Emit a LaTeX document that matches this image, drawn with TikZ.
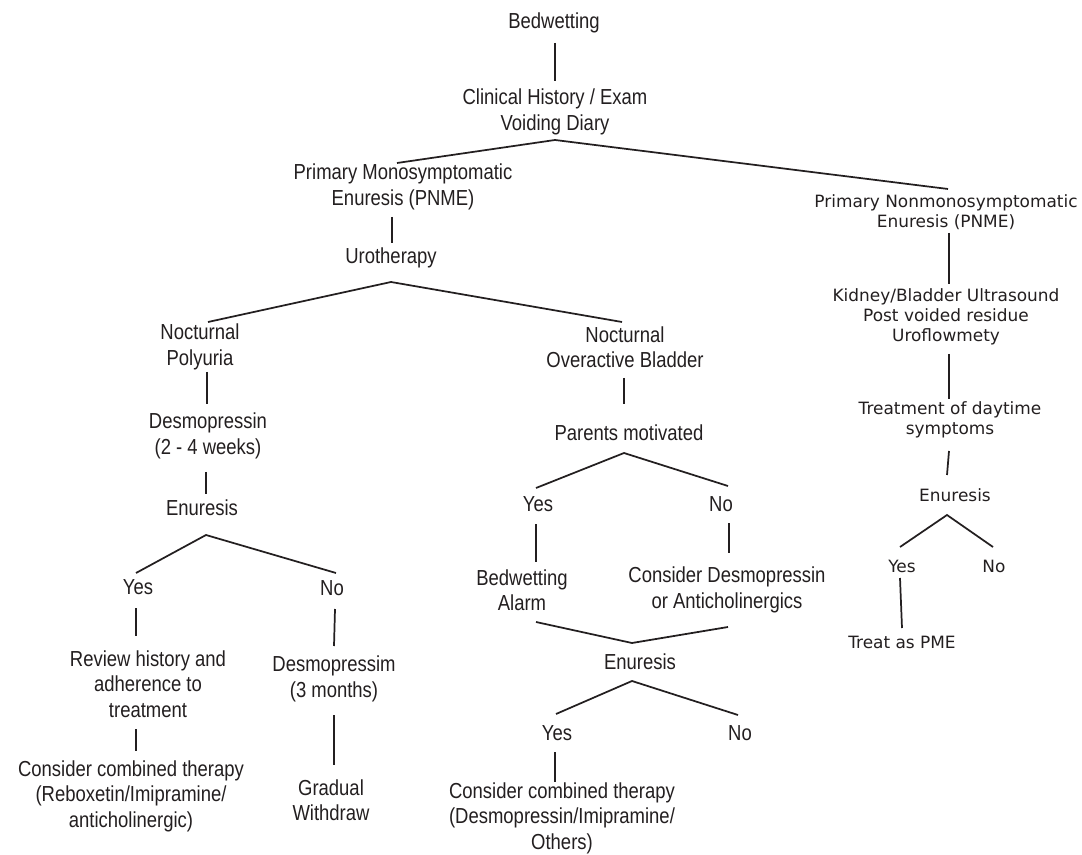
\documentclass[tikz,border=0pt]{standalone}
\usepackage{fontspec}
\setmainfont{Liberation Sans}
\newfontfamily\fa[FakeStretch=0.85]{Liberation Sans}
\newfontfamily\fb{DejaVu Sans}
\definecolor{ink}{HTML}{231F20}
\begin{document}
\begin{tikzpicture}[x=0.75pt,y=-0.75pt,
  ta/.style={inner sep=0pt,align=center,text=ink,font=\fa\fontsize{16.3}{19.1}\selectfont},
  tb/.style={inner sep=0pt,align=center,text=ink,font=\fb\fontsize{12.7}{15}\selectfont},
  ln/.style={draw=ink,line width=1.3pt,line join=miter}]
\useasboundingbox[fill=white] (0,0) rectangle (1082,855);
% nodes, left font
\node[ta] (n1) at (554,23) {Bedwetting};
\node[ta] (n2) at (555,112) {Clinical History / Exam\\Voiding Diary};
\node[ta] (n3) at (403,187) {Primary Monosymptomatic\\Enuresis (PNME)};
\node[ta] (n4) at (391,258) {Urotherapy};
\node[ta] (n5) at (200,347) {Nocturnal\\Polyuria};
\node[ta] (n6) at (208,436) {Desmopressin\\(2 - 4 weeks)};
\node[ta] (n7) at (202,508) {Enuresis};
\node[ta] (n8) at (138,587) {Yes};
\node[ta] (n9) at (332,588) {No};
\node[ta] (n10) at (148,684) {Review history and\\adherence to\\treatment};
\node[ta] (n11) at (334,679) {Desmopressim\\(3 months)};
\node[ta] (n12) at (131,796) {Consider combined therapy\\(Reboxetin/Imipramine/\\anticholinergic)};
\node[ta] (n13) at (331,800) {Gradual\\Withdraw};
\node[ta] (n14) at (625,347) {Nocturnal\\Overactive Bladder};
\node[ta] (n15) at (629,433) {Parents motivated};
\node[ta] (n16) at (538,504) {Yes};
\node[ta] (n17) at (721,504) {No};
\node[ta] (n18) at (522,590) {Bedwetting\\Alarm};
\node[ta] (n19) at (727,590) {Consider Desmopressin\\or Anticholinergics};
\node[ta] (n20) at (640,662) {Enuresis};
\node[ta] (n21) at (557,733) {Yes};
\node[ta] (n22) at (740,733) {No};
\node[ta] (n23) at (562,818) {Consider combined therapy\\(Desmopressin/Imipramine/\\Others)};
% nodes, right font
\node[tb] (n24) at (946,212) {Primary Nonmonosymptomatic\\Enuresis (PNME)};
\node[tb] (n25) at (946,317) {Kidney/Bladder Ultrasound\\Post voided residue\\Uroflowmety};
\node[tb] (n26) at (950,420) {Treatment of daytime\\symptoms};
\node[tb] (n27) at (955,495) {Enuresis};
\node[tb] (n28) at (902,566) {Yes};
\node[tb] (n29) at (994,566) {No};
\node[tb] (n30) at (902,642) {Treat as PME};
% connector end points
\coordinate (c1a) at (555,43);  \coordinate (c1b) at (555,81);
\coordinate (c2l) at (397,163); \coordinate (c2m) at (555,140); \coordinate (c2r) at (948,189);
\coordinate (c3a) at (392,217); \coordinate (c3b) at (392,243);
\coordinate (c4l) at (208,322); \coordinate (c4m) at (391,282); \coordinate (c4r) at (622,322);
\coordinate (c5a) at (207,372); \coordinate (c5b) at (207,404);
\coordinate (c6a) at (206,472); \coordinate (c6b) at (206,494);
\coordinate (c7l) at (136,573); \coordinate (c7m) at (206,535); \coordinate (c7r) at (336,573);
\coordinate (c8a) at (136,608); \coordinate (c8b) at (136,636);
\coordinate (c9a) at (335,609); \coordinate (c9b) at (334,646);
\coordinate (c10a) at (136,729); \coordinate (c10b) at (136,751);
\coordinate (c11a) at (334,715); \coordinate (c11b) at (334,765);
\coordinate (c12a) at (624,378); \coordinate (c12b) at (624,404);
\coordinate (c13l) at (536,488); \coordinate (c13m) at (624,453); \coordinate (c13r) at (728,486);
\coordinate (c14a) at (536,524); \coordinate (c14b) at (536,562);
\coordinate (c15a) at (729,523); \coordinate (c15b) at (729,553);
\coordinate (c16l) at (536,622); \coordinate (c16m) at (632,643); \coordinate (c16r) at (728,627);
\coordinate (c17l) at (556,714); \coordinate (c17m) at (632,681); \coordinate (c17r) at (738,715);
\coordinate (c18a) at (555,752); \coordinate (c18b) at (555,782);
\coordinate (c19a) at (949,233); \coordinate (c19b) at (949,284);
\coordinate (c20a) at (949,354); \coordinate (c20b) at (949,399);
\coordinate (c21a) at (949,451); \coordinate (c21b) at (947,475);
\coordinate (c22l) at (900,547); \coordinate (c22m) at (947,515); \coordinate (c22r) at (993,547);
\coordinate (c23a) at (900,578); \coordinate (c23b) at (902,628);
% connectors
\draw[ln] (c1a) -- (c1b);
\draw[ln] (c2l) -- (c2m) -- (c2r);
\draw[ln] (c3a) -- (c3b);
\draw[ln] (c4l) -- (c4m) -- (c4r);
\draw[ln] (c5a) -- (c5b);
\draw[ln] (c6a) -- (c6b);
\draw[ln] (c7l) -- (c7m) -- (c7r);
\draw[ln] (c8a) -- (c8b);
\draw[ln] (c9a) -- (c9b);
\draw[ln] (c10a) -- (c10b);
\draw[ln] (c11a) -- (c11b);
\draw[ln] (c12a) -- (c12b);
\draw[ln] (c13l) -- (c13m) -- (c13r);
\draw[ln] (c14a) -- (c14b);
\draw[ln] (c15a) -- (c15b);
\draw[ln] (c16l) -- (c16m) -- (c16r);
\draw[ln] (c17l) -- (c17m) -- (c17r);
\draw[ln] (c18a) -- (c18b);
\draw[ln] (c19a) -- (c19b);
\draw[ln] (c20a) -- (c20b);
\draw[ln] (c21a) -- (c21b);
\draw[ln] (c22l) -- (c22m) -- (c22r);
\draw[ln] (c23a) -- (c23b);
\end{tikzpicture}
\end{document}
